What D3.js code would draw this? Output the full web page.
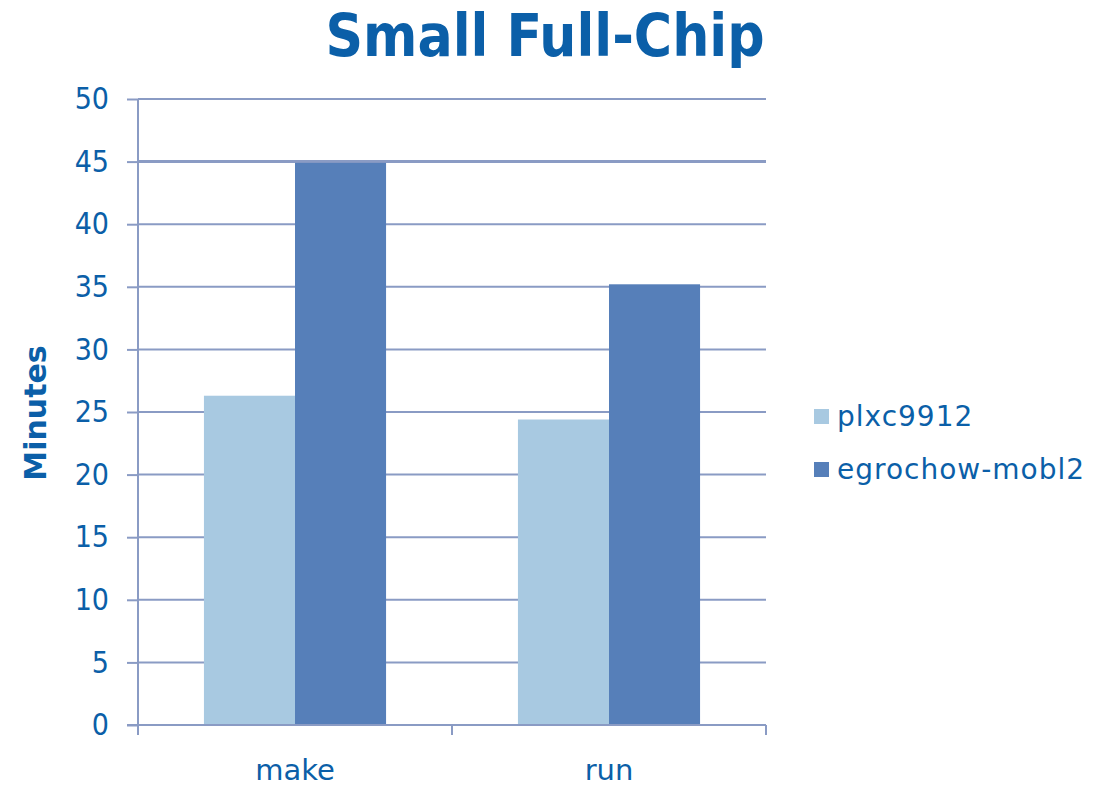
<!DOCTYPE html>
<html>
<meta charset="utf-8">
<head>
  <title>Small Full-Chip</title>
  <script src="https://d3js.org/d3.v7.min.js"></script>
  <style>
    body { margin: 0; background: #fff; }
    text { font-family: "DejaVu Sans", Verdana, sans-serif; fill: #0b5fa8; }
  </style>
</head>
<body>
<div id="my_dataviz"></div>
<script>

// data
var categories = ["make", "run"];
var seriesNames = ["plxc9912", "egrochow-mobl2"];
var plxc9912 = [26.3, 24.4];
var egrochow = [44.9, 35.2];
var yTicks = [0, 5, 10, 15, 20, 25, 30, 35, 40, 45, 50];
var colors = ["#a8c9e1", "#567fb9"];

var seriesValues = [plxc9912, egrochow];

// set the dimensions and margins of the graph
var margin = {top: 99, right: 339, bottom: 63, left: 138},
    width = 1105 - margin.left - margin.right,
    height = 788 - margin.top - margin.bottom;

var svg = d3.select("#my_dataviz").append("svg")
    .attr("width", 1105)
    .attr("height", 788);

var g = svg.append("g")
    .attr("transform", "translate(" + margin.left + "," + margin.top + ")");

// scales
var x0 = d3.scaleBand()
    .domain(categories)
    .range([0, width])
    .padding(0);

var x1 = d3.scaleBand()
    .domain(seriesNames)
    .range([x0.bandwidth() * 0.21, x0.bandwidth() * 0.79])
    .padding(0);

var y = d3.scaleLinear()
    .domain([0, 50])
    .range([height, 0]);

var gridColor = "#8a9bc4";

// gridlines
g.append("g")
  .selectAll("line")
  .data(yTicks.filter(function(d) { return d > 0; }))
  .enter().append("line")
    .attr("x1", 0)
    .attr("x2", width)
    .attr("y1", function(d) { return y(d); })
    .attr("y2", function(d) { return y(d); })
    .attr("stroke", gridColor)
    .attr("stroke-width", function(d) { return d == 45 ? 3 : 2; });

// bars
var groups = g.append("g")
  .selectAll("g")
  .data(categories)
  .enter().append("g")
    .attr("transform", function(d) { return "translate(" + x0(d) + ",0)"; });

groups.selectAll("rect")
  .data(function(d, i) {
    return seriesNames.map(function(s, j) { return {key: s, value: seriesValues[j][i], idx: j}; });
  })
  .enter().append("rect")
    .attr("x", function(d) { return x1(d.key); })
    .attr("y", function(d) { return y(d.value); })
    .attr("width", x1.bandwidth())
    .attr("height", function(d) { return height - y(d.value); })
    .attr("fill", function(d) { return colors[d.idx]; });

// y axis
var yAxis = g.append("g")
    .call(d3.axisLeft(y).tickValues(yTicks).tickSize(11).tickPadding(18));
yAxis.select(".domain").attr("stroke", gridColor).attr("stroke-width", 2)
    .attr("d", "M0," + (height + 10) + "V0");
yAxis.selectAll(".tick line").attr("stroke", gridColor).attr("stroke-width", 2);
yAxis.selectAll(".tick text")
    .style("font-size", "30px")
    .style("font-stretch", "condensed")
    .attr("fill", "#0b5fa8");

// x axis
var xAxis = g.append("g")
    .attr("transform", "translate(0," + height + ")")
    .call(d3.axisBottom(x0).tickSize(0).tickPadding(34));
xAxis.select(".domain").attr("stroke", gridColor).attr("stroke-width", 2)
    .attr("d", "M-11,0H" + width);
xAxis.selectAll(".tick text")
    .style("font-size", "29px")
    .attr("fill", "#0b5fa8");

// category separators on the x axis
g.append("g")
  .selectAll("line")
  .data(x0.domain().map(function(d) { return x0(d); }).concat([width]))
  .enter().append("line")
    .attr("x1", function(d) { return d; })
    .attr("x2", function(d) { return d; })
    .attr("y1", height)
    .attr("y2", height + 10)
    .attr("stroke", gridColor)
    .attr("stroke-width", 2);

// title
svg.append("text")
    .attr("x", 545)
    .attr("y", 56)
    .attr("text-anchor", "middle")
    .style("font-size", "58px")
    .style("font-weight", "bold")
    .style("font-stretch", "condensed")
    .text("Small Full-Chip");

// y axis title
svg.append("text")
    .attr("transform", "translate(46,413) rotate(-90)")
    .attr("text-anchor", "middle")
    .style("font-size", "30px")
    .style("font-weight", "bold")
    .text("Minutes");

// legend
var legend = svg.append("g")
    .attr("transform", "translate(814,409)");

var item = legend.selectAll("g")
  .data(seriesNames)
  .enter().append("g")
    .attr("transform", function(d, i) { return "translate(0," + (i * 53) + ")"; });

item.append("rect")
    .attr("width", 15)
    .attr("height", 15)
    .attr("fill", function(d, i) { return colors[i]; });

item.append("text")
    .attr("x", 23)
    .attr("y", 17)
    .style("font-size", "28px")
    .style("letter-spacing", "1px")
    .text(function(d) { return d; });

</script>
</body>
</html>
